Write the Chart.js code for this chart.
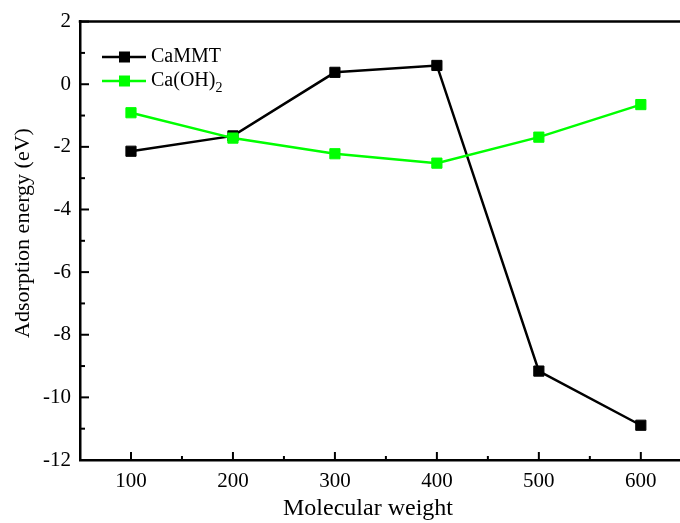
<!DOCTYPE html>
<html>
<head>
<meta charset="utf-8">
<script src="https://cdn.jsdelivr.net/npm/chart.js@4.4.0/dist/chart.umd.min.js"></script>
<style>
  html, body { margin: 0; padding: 0; background: #fff; overflow: hidden; }
  #wrap { width: 700px; height: 523px; }
</style>
</head>
<body>
<div id="wrap"><canvas id="chart" width="700" height="523"></canvas></div>
<script>
// data
const molecularWeights = [100, 200, 300, 400, 500, 600];
const caMMT = [-2.14, -1.65, 0.38, 0.60, -9.16, -10.89];
const caOH2 = [-0.91, -1.72, -2.22, -2.52, -1.69, -0.65];
const xTicks = [100, 200, 300, 400, 500, 600];
const yTicks = [-12, -10, -8, -6, -4, -2, 0, 2];

const serif = 'Liberation Serif';
const green = '#00ff00';

// inward ticks, top frame line, axis titles and the legend with a subscript
const framePlugin = {
    id: 'frame',
    afterDraw(chart) {
        const ctx = chart.ctx;
        const area = chart.chartArea;
        const x = chart.scales.x;
        const y = chart.scales.y;
        ctx.save();
        ctx.strokeStyle = '#000';
        ctx.lineWidth = 2.5;
        ctx.beginPath();
        ctx.moveTo(area.left - 1.25, area.top);
        ctx.lineTo(area.right, area.top);
        ctx.stroke();

        ctx.lineWidth = 2;
        for (let v = -12; v <= 2; v += 1) {
            const py = y.getPixelForValue(v);
            const len = v % 2 === 0 ? 9 : 5;
            ctx.beginPath();
            ctx.moveTo(area.left, py);
            ctx.lineTo(area.left + len, py);
            ctx.stroke();
        }
        for (let v = 50; v <= 650; v += 50) {
            const px = x.getPixelForValue(v);
            const len = v % 100 === 0 ? 8 : 4;
            ctx.beginPath();
            ctx.moveTo(px, area.bottom);
            ctx.lineTo(px, area.bottom - len);
            ctx.stroke();
        }

        // axis titles
        ctx.fillStyle = '#000';
        ctx.textAlign = 'center';
        ctx.textBaseline = 'middle';
        ctx.font = '24px "' + serif + '"';
        ctx.fillText('Molecular weight', 368, 509);
        ctx.save();
        ctx.translate(23, 233);
        ctx.rotate(-Math.PI / 2);
        ctx.font = '22px "' + serif + '"';
        ctx.fillText('Adsorption energy (eV)', 0, 0);
        ctx.restore();

        // legend
        const items = [
            { ds: chart.data.datasets[1], y: 57, parts: [['CaMMT', false]] },
            { ds: chart.data.datasets[0], y: 81, parts: [['Ca(OH)', false], ['2', true]] }
        ];
        items.forEach(item => {
            const c = item.ds.borderColor;
            ctx.strokeStyle = c;
            ctx.fillStyle = c;
            ctx.lineWidth = 2.5;
            ctx.beginPath();
            ctx.moveTo(102, item.y);
            ctx.lineTo(146, item.y);
            ctx.stroke();
            ctx.fillRect(119, item.y - 5.5, 11, 11);
            ctx.fillStyle = '#000';
            ctx.textBaseline = 'middle';
            ctx.textAlign = 'left';
            let tx = 151;
            item.parts.forEach(([txt, sub]) => {
                ctx.font = (sub ? 14 : 20) + 'px "' + serif + '"';
                ctx.fillText(txt, tx, item.y + (sub ? 7 : 0));
                tx += ctx.measureText(txt).width;
            });
        });
        ctx.restore();
    }
};

new Chart(document.getElementById('chart'), {
    type: 'line',
    data: {
        datasets: [
            {
                label: 'Ca(OH)2',
                data: molecularWeights.map((w, i) => ({ x: w, y: caOH2[i] })),
                borderColor: green,
                backgroundColor: green,
                borderWidth: 2.5,
                pointStyle: 'rect',
                pointRadius: 7.2,
                pointBorderWidth: 1,
                tension: 0,
                order: 1
            },
            {
                label: 'CaMMT',
                data: molecularWeights.map((w, i) => ({ x: w, y: caMMT[i] })),
                borderColor: '#000',
                backgroundColor: '#000',
                borderWidth: 2.5,
                pointStyle: 'rect',
                pointRadius: 7.2,
                pointBorderWidth: 1,
                tension: 0,
                order: 2
            }
        ]
    },
    options: {
        responsive: false,
        animation: false,
        layout: { padding: { top: 21, right: 0, left: 0, bottom: 0 } },
        plugins: {
            legend: { display: false },
            tooltip: { enabled: false }
        },
        scales: {
            x: {
                type: 'linear',
                min: 50,
                max: 650,
                afterBuildTicks: s => { s.ticks = xTicks.map(v => ({ value: v })); },
                afterFit: s => { s.height = 63; },
                grid: { display: false, drawTicks: false },
                border: { display: true, color: '#000', width: 2.5 },
                ticks: {
                    color: '#000',
                    padding: 9,
                    maxRotation: 0,
                    font: { family: serif, size: 21 }
                }
            },
            y: {
                type: 'linear',
                min: -12,
                max: 2,
                afterBuildTicks: s => { s.ticks = yTicks.map(v => ({ value: v })); },
                afterFit: s => { s.width = 80; },
                grid: { display: false, drawTicks: false },
                border: { display: true, color: '#000', width: 2.5 },
                ticks: {
                    color: '#000',
                    padding: 9,
                    font: { family: serif, size: 21 }
                }
            }
        }
    },
    plugins: [framePlugin]
});
</script>
</body>
</html>
